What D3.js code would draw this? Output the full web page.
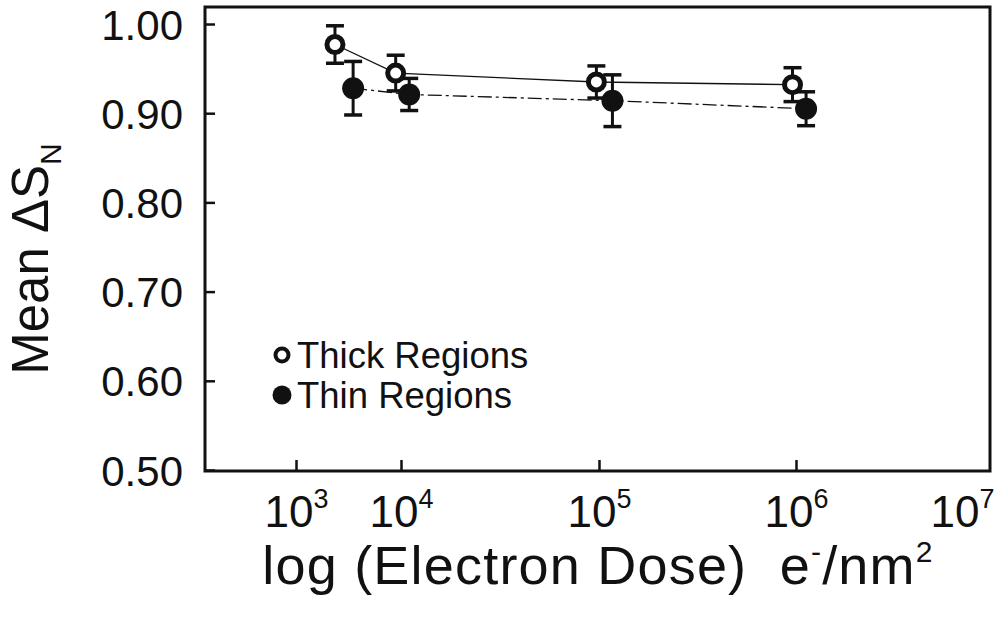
<!DOCTYPE html>
<html>
<head>
<meta charset="utf-8">
<script src="https://cdn.jsdelivr.net/npm/d3@7"></script>
<style>
  html, body { margin: 0; padding: 0; background: #fff; }
  svg { display: block; font-family: "Liberation Sans", Arial, sans-serif; }
</style>
</head>
<body>
<svg id="chart" width="998" height="620"></svg>
<script>
// ---- data ----
const xTickExponents = [3, 4, 5, 6, 7];
const yTicks = [0.50, 0.60, 0.70, 0.80, 0.90, 1.00];

const thickDose = [2350, 8900, 97000, 960000];
const thickMean = [0.977, 0.945, 0.935, 0.932];
const thickErr  = [0.021, 0.020, 0.018, 0.019];

const thinDose = [3500, 11000, 117000, 1150000];
const thinMean = [0.928, 0.921, 0.914, 0.905];
const thinErr  = [0.030, 0.018, 0.029, 0.019];

const legendLabels = ["Thick Regions", "Thin Regions"];

// ---- layout ----
const svg = d3.select("#chart");
const frame = { left: 205, right: 990, top: 7, bottom: 471 };

const x = d3.scaleLog()
  .domain(xTickExponents.map(e => Math.pow(10, e)))
  .range([296, 401, 599, 796, 962]);
const y = d3.scaleLinear().domain([0.5, 1.0]).range([470, 24]);

const ink = "#111";

// frame
svg.append("rect")
  .attr("x", frame.left).attr("y", frame.top)
  .attr("width", frame.right - frame.left).attr("height", frame.bottom - frame.top)
  .attr("fill", "none").attr("stroke", ink).attr("stroke-width", 3);

// y axis (ticks inward)
const yAxis = d3.axisLeft(y).tickValues(yTicks).tickFormat(d3.format(".2f")).tickSize(-10).tickPadding(22);
const gy = svg.append("g").attr("transform", `translate(${frame.left},0)`).call(yAxis);
gy.select(".domain").remove();
gy.selectAll(".tick line").attr("stroke", ink).attr("stroke-width", 2.5);
gy.selectAll(".tick text").attr("fill", ink).attr("font-size", 42)
  .attr("font-family", "Liberation Sans, Arial, sans-serif").attr("dy", "0.36em");

// x axis (ticks inward)
const xAxis = d3.axisBottom(x).tickValues(xTickExponents.map(e => Math.pow(10, e)))
  .tickSize(-11).tickFormat(() => "");
const gx = svg.append("g").attr("transform", `translate(0,${frame.bottom})`).call(xAxis);
gx.select(".domain").remove();
gx.selectAll(".tick line").attr("stroke", ink).attr("stroke-width", 2.5)
  .filter(d => d >= 1e7).remove();
gx.selectAll(".tick").each(function(d, i) {
  const t = d3.select(this).append("text")
    .attr("fill", ink).attr("text-anchor", "middle")
    .attr("font-family", "Liberation Sans, Arial, sans-serif")
    .attr("y", 56).attr("font-size", 44);
  t.append("tspan").text("10");
  t.append("tspan").attr("font-size", 27).attr("dy", -19).text(xTickExponents[i]);
});

// axis titles
svg.append("text")
  .attr("x", 598).attr("y", 584)
  .attr("text-anchor", "middle").attr("fill", ink)
  .attr("font-size", 54).attr("letter-spacing", 1.2)
  .call(t => {
    t.append("tspan").text("log (Electron Dose)\u00a0\u00a0e");
    t.append("tspan").attr("font-size", 30).attr("dy", -22).text("-");
    t.append("tspan").attr("dy", 22).text("/nm");
    t.append("tspan").attr("font-size", 30).attr("dy", -22).text("2");
  });

svg.append("text")
  .attr("transform", "translate(48,259) rotate(-90)")
  .attr("text-anchor", "middle").attr("fill", ink)
  .attr("font-size", 51)
  .call(t => {
    t.append("tspan").text("Mean \u0394S");
    t.append("tspan").attr("font-size", 30).attr("dy", 13).text("N");
  });

// series
function drawSeries(dose, mean, err, filled, dash) {
  const pts = dose.map((d, i) => ({ x: d, y: mean[i], e: err[i] }));
  svg.append("path")
    .datum(pts)
    .attr("fill", "none").attr("stroke", ink).attr("stroke-width", 1.3)
    .attr("stroke-dasharray", dash)
    .attr("d", d3.line().x(p => x(p.x)).y(p => y(p.y)));
  const g = svg.append("g");
  pts.forEach(p => {
    const cx = x(p.x);
    g.append("line").attr("x1", cx).attr("x2", cx)
      .attr("y1", y(p.y + p.e)).attr("y2", y(p.y - p.e))
      .attr("stroke", ink).attr("stroke-width", 3);
    [p.y + p.e, p.y - p.e].forEach(v => {
      g.append("line").attr("x1", cx - 9).attr("x2", cx + 9)
        .attr("y1", y(v)).attr("y2", y(v))
        .attr("stroke", ink).attr("stroke-width", 3.5);
    });
    if (filled) {
      g.append("circle").attr("cx", cx).attr("cy", y(p.y)).attr("r", 11).attr("fill", ink);
    } else {
      g.append("circle").attr("cx", cx).attr("cy", y(p.y)).attr("r", 8)
        .attr("fill", "#fff").attr("stroke", ink).attr("stroke-width", 5);
    }
  });
}
drawSeries(thinDose, thinMean, thinErr, true, "14,4,3,4");
drawSeries(thickDose, thickMean, thickErr, false, null);

// legend
const leg = svg.append("g");
legendLabels.forEach((lab, i) => {
  const ly = 355 + i * 40;
  if (i === 0) {
    leg.append("circle").attr("cx", 282).attr("cy", ly).attr("r", 6.5)
      .attr("fill", "#fff").attr("stroke", ink).attr("stroke-width", 4);
  } else {
    leg.append("circle").attr("cx", 282).attr("cy", ly).attr("r", 9.5).attr("fill", ink);
  }
  leg.append("text").attr("x", 297).attr("y", ly).attr("dy", "0.36em")
    .attr("fill", ink).attr("font-size", 36.5).text(lab);
});
</script>
</body>
</html>
